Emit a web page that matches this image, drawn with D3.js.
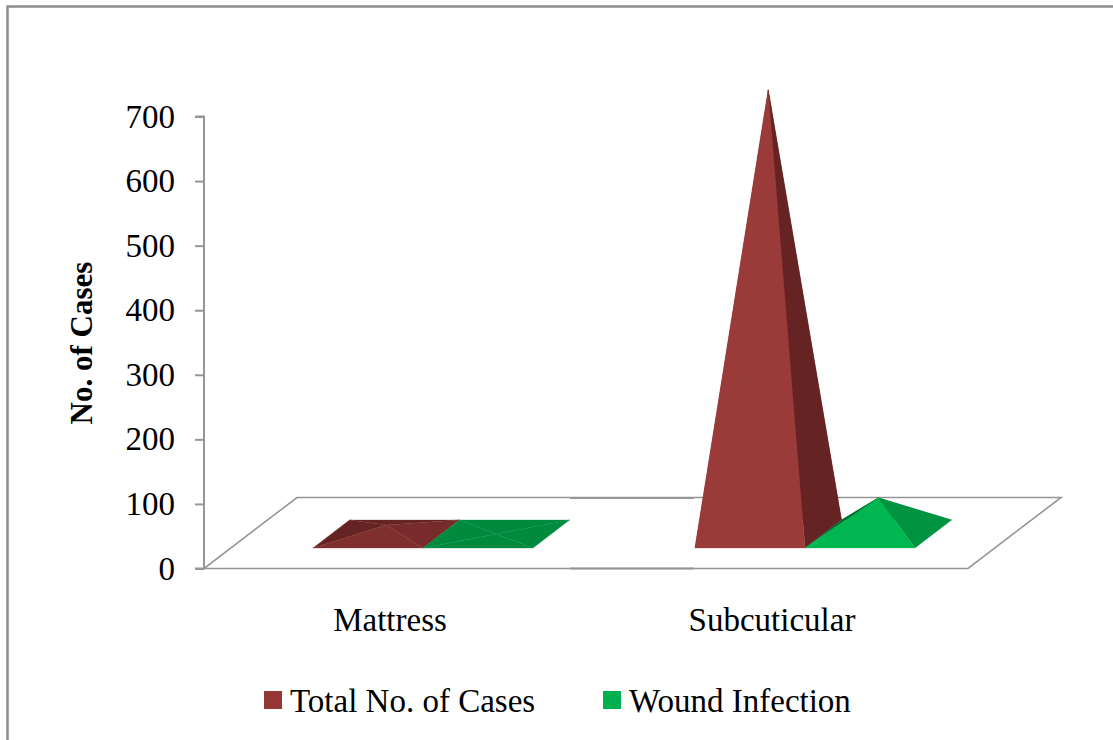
<!DOCTYPE html>
<html>
<head>
<meta charset="utf-8">
<script src="https://cdn.jsdelivr.net/npm/d3@7"></script>
<style>
  html, body { margin: 0; padding: 0; background: #fff; overflow: hidden; }
  text { font-family: "Liberation Serif", serif; fill: #000; }
</style>
</head>
<body>
<div id="chart"></div>
<script>
// values
var categories = ["Mattress", "Subcuticular"];
var seriesNames = ["Total No. of Cases", "Wound Infection"];
var totalCases = [14, 688];
var woundInfection = [0, 56];
var yTicks = [0, 100, 200, 300, 400, 500, 600, 700];

var seriesValues = [totalCases, woundInfection];
var legendColors = ["#953735", "#00b050"];

// face colours [back, left, right, front], series by category
var faceColors = [
  [["#652423", "#652423", "#772b2a", "#7f2f2d"], ["#652423", "#652423", "#652423", "#9b3b39"]],
  [["#008a3e", "#008a3e", "#008a3e", "#008a3e"], ["#006b30", "#006b30", "#009440", "#00b651"]]
];

var width = 1113, height = 740;
var axisColor = "#969696";

var svg = d3.select("#chart").append("svg")
  .attr("width", width)
  .attr("height", height);

// outer frame, only left and top are in the picture
svg.append("path")
  .attr("d", "M7.5,740V6.5H1113")
  .attr("fill", "none")
  .attr("stroke", "#8c8c8c")
  .attr("stroke-width", 2.5);

var y = d3.scaleLinear().domain([0, 700]).range([568.5, 116.5]);

var x = d3.scaleBand()
  .domain(categories)
  .range([204, 968])
  .paddingInner(0.424)
  .paddingOuter(0.212);

var s = d3.scaleBand()
  .domain(seriesNames)
  .range([0, x.bandwidth()]);

// floor of the 3d box
var floorDx = 93, floorDy = -71;
var floorLeft = x.range()[0], floorRight = x.range()[1], floorY = y(0);
var floor = svg.append("g")
  .attr("fill", "none")
  .attr("stroke", axisColor)
  .attr("stroke-width", 1.6);

floor.append("path")
  .attr("d", "M" + floorLeft + "," + floorY +
    "L" + floorRight + "," + floorY +
    "L" + (floorRight + floorDx) + "," + (floorY + floorDy) +
    "L" + (floorLeft + floorDx) + "," + (floorY + floorDy) + "Z");

// the darker stretch in the middle of both floor edges
[floorY, floorY + floorDy + 0.5].forEach(function(ly) {
  floor.append("line")
    .attr("x1", 570).attr("x2", 694)
    .attr("y1", ly).attr("y2", ly)
    .attr("stroke-width", 2);
});

// y axis
var yAxis = svg.append("g")
  .attr("transform", "translate(" + floorLeft + ",0)")
  .call(d3.axisLeft(y).tickValues(yTicks).tickSize(9).tickPadding(20).tickFormat(d3.format("d")));
yAxis.selectAll("path, line").attr("stroke", axisColor).attr("stroke-width", 2);
yAxis.select(".domain").attr("d", "M-9," + y(700) + "H0V" + y(0) + "H-9");
yAxis.selectAll("text").attr("font-size", 33).attr("font-family", "Liberation Serif").attr("fill", "#000");

svg.append("text")
  .attr("transform", "translate(92,343) rotate(-90)")
  .attr("text-anchor", "middle")
  .attr("font-size", 31)
  .attr("font-weight", "bold")
  .text("No. of Cases");

// pyramids, base sits a bit inside the floor
var frontDx = 28, frontDy = -20.5, depthDx = 36.5, depthDy = -28;

function drawPyramid(group, cat, name, value, colors) {
  var x0 = x(cat) + s(name) + frontDx,
      x1 = x0 + s.bandwidth(),
      yf = y(0) + frontDy,
      yb = yf + depthDy,
      cx = (x0 + x1) / 2 + depthDx / 2,
      cy = yf + depthDy / 2,
      apexY = cy - (y(0) - y(value));
  var fl = [x0, yf], fr = [x1, yf],
      bl = [x0 + depthDx, yb], br = [x1 + depthDx, yb],
      apex = [cx, apexY];
  var faces = [[bl, br, apex], [fl, bl, apex], [fr, br, apex], [fl, fr, apex]];
  group.selectAll("polygon")
    .data(faces)
    .enter()
    .append("polygon")
    .attr("points", function(d) { return d.join(" "); })
    .attr("fill", function(d, i) { return colors[i]; })
    .attr("stroke", function(d, i) { return colors[i]; })
    .attr("stroke-width", 0.3);
}

categories.forEach(function(cat, c) {
  seriesNames.forEach(function(name, k) {
    drawPyramid(svg.append("g"), cat, name, seriesValues[k][c], faceColors[k][c]);
  });
});

// category labels
svg.selectAll(".cat")
  .data(categories)
  .enter()
  .append("text")
  .attr("class", "cat")
  .attr("x", function(d) { return x(d) + x.bandwidth() / 2 - 5; })
  .attr("y", 631)
  .attr("text-anchor", "middle")
  .attr("font-size", 33)
  .text(function(d) { return d; });

// legend
var legendX = [264, 603];
var legend = svg.selectAll(".legend")
  .data(seriesNames)
  .enter()
  .append("g")
  .attr("class", "legend")
  .attr("transform", function(d, i) { return "translate(" + legendX[i] + ",691)"; });
legend.append("rect")
  .attr("width", 18)
  .attr("height", 18)
  .attr("fill", function(d, i) { return legendColors[i]; });
legend.append("text")
  .attr("x", 26)
  .attr("y", 21)
  .attr("font-size", 33)
  .text(function(d) { return d; });
</script>
</body>
</html>
